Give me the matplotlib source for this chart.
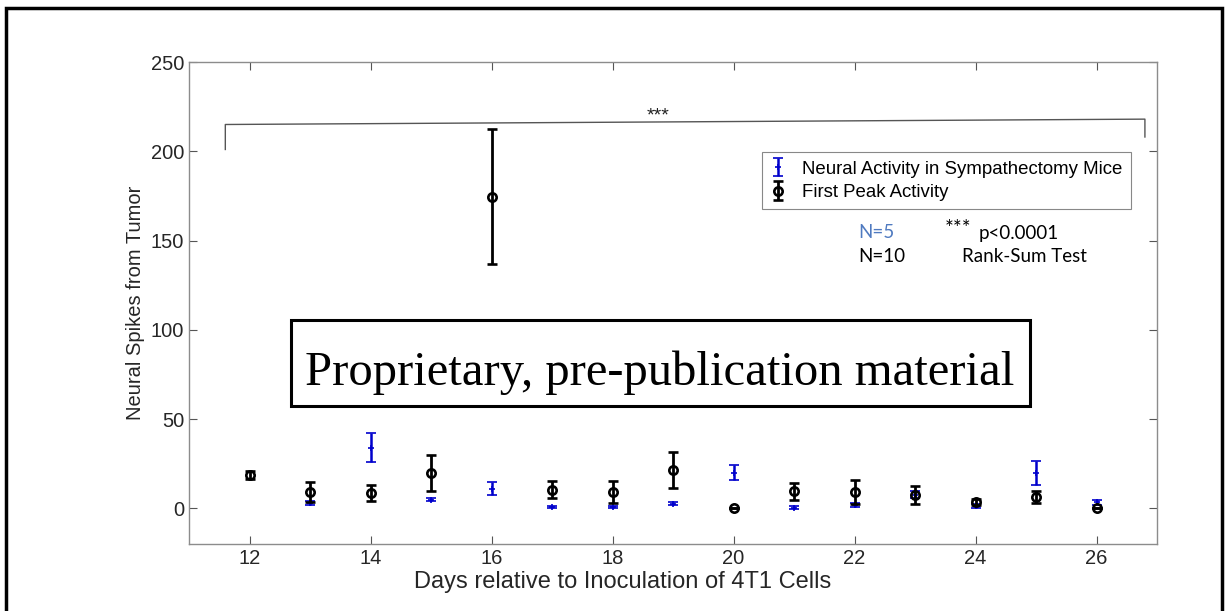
import numpy as np
import matplotlib.pyplot as plt
from matplotlib.patches import Rectangle

# values
peak_days = [12, 13, 14, 15, 16, 17, 18, 19, 20, 21, 22, 23, 24, 25, 26]
peak_mean = [18.5, 9.2, 8.6, 19.8, 174.5, 10.5, 9.2, 21.3, 0.4, 9.4, 9.0, 7.3, 3.6, 6.4, 0.2]
peak_err = [2.2, 5.5, 4.4, 10.3, 37.7, 4.7, 6.0, 10.2, 0.0, 4.9, 6.6, 5.0, 1.8, 3.5, 0.0]

symp_days = [13, 14, 15, 16, 17, 18, 19, 20, 21, 22, 23, 24, 25, 26]
symp_mean = [2.8, 33.9, 4.9, 11.0, 0.5, 0.8, 2.6, 19.8, 0.4, 1.9, 7.5, 1.1, 19.8, 3.4]
symp_err = [1.2, 8.1, 1.0, 3.7, 0.6, 0.6, 0.8, 4.2, 0.6, 1.2, 2.0, 1.2, 6.7, 1.5]

x_ticks = [12, 14, 16, 18, 20, 22, 24, 26]
y_ticks = [0, 50, 100, 150, 200, 250]

# significance bracket corners
bracket_x = [11.6, 11.6, 26.8, 26.8]
bracket_y = [201, 215, 218, 208]

plt.rcParams['font.family'] = ['Liberation Sans', 'DejaVu Sans']

fig = plt.figure(figsize=(12.25, 6.11), dpi=100)
ax = fig.add_axes([0.1543, 0.1097, 0.7902, 0.7888])

blue = '#0000cc'
ax.errorbar(symp_days, symp_mean, yerr=symp_err, fmt='+', color=blue,
            ms=4, mew=1.2, elinewidth=1.8, capsize=3.5, capthick=1.8,
            label='Neural Activity in Sympathectomy Mice', zorder=3)
ax.errorbar(peak_days, peak_mean, yerr=peak_err, fmt='o', color='black',
            mfc='none', ms=6, mew=1.9, elinewidth=2.0, capsize=3.5, capthick=2.0,
            label='First Peak Activity', zorder=4)

ax.plot(bracket_x, bracket_y, color='#555555', lw=1.0)
ax.text(18.75, 220, '***', ha='center', va='center', fontsize=14, color='#222222')

ax.set_xlim(11, 27)
ax.set_ylim(-20, 250)
ax.set_xticks(x_ticks)
ax.set_yticks(y_ticks)
ax.tick_params(direction='in', length=6, width=0.8, color='#555555',
               labelsize=14.5, labelcolor='#262626', top=True, right=True)
for s in ax.spines.values():
    s.set_color('#8c8c8c')
    s.set_linewidth(1.0)

ax.set_ylabel('Neural Spikes from Tumor', fontsize=14.5, color='#262626', labelpad=4)
fig.text(623 / 1225, 1 - 582 / 611, 'Days relative to Inoculation of 4T1 Cells',
         fontsize=17, color='#262626', ha='center', va='center')

leg = ax.legend(loc='upper left', bbox_to_anchor=(0.592, 0.813), fontsize=13.4,
                frameon=True, fancybox=False, edgecolor='#888888', framealpha=1,
                handlelength=0.8, handletextpad=0.9, borderpad=0.45, labelspacing=0.35,
                borderaxespad=0)
leg.get_frame().set_linewidth(0.8)

# stats notes
note_font = ['Lato', 'DejaVu Sans']
fig.text(858 / 1225, 1 - 233 / 611, 'N=5', color='#4f7ac0', fontsize=13.5, family=note_font, va='center')
fig.text(858 / 1225, 1 - 257 / 611, 'N=10', color='black', fontsize=13.5, family=note_font, va='center')
fig.text(945 / 1225, 1 - 229 / 611, '***', color='black', fontsize=15, family=note_font, va='center')
fig.text(979 / 1225, 1 - 233 / 611, 'p<0.0001', color='black', fontsize=13.5, family=note_font, va='center')
fig.text(962 / 1225, 1 - 257 / 611, 'Rank-Sum Test', color='black', fontsize=13.5, family=note_font, va='center')

# watermark box
fig.patches.append(Rectangle((291 / 1225, 1 - 406 / 611), (1030 - 291) / 1225, (406 - 320) / 611,
                             transform=fig.transFigure, fill=True, facecolor='white',
                             edgecolor='black', lw=2.2, zorder=5))
fig.text(660 / 1225, 1 - 385 / 611, 'Proprietary, pre-publication material',
         family=['Liberation Serif', 'DejaVu Serif'], fontsize=35, ha='center', va='baseline', zorder=6)

# outer frame
fig.patches.append(Rectangle((6 / 1225, -0.05), (1222 - 6) / 1225, 1.05 - 8 / 611,
                             transform=fig.transFigure, fill=False, edgecolor='black', lw=2.5))

fig.savefig('out.png', dpi=100)
